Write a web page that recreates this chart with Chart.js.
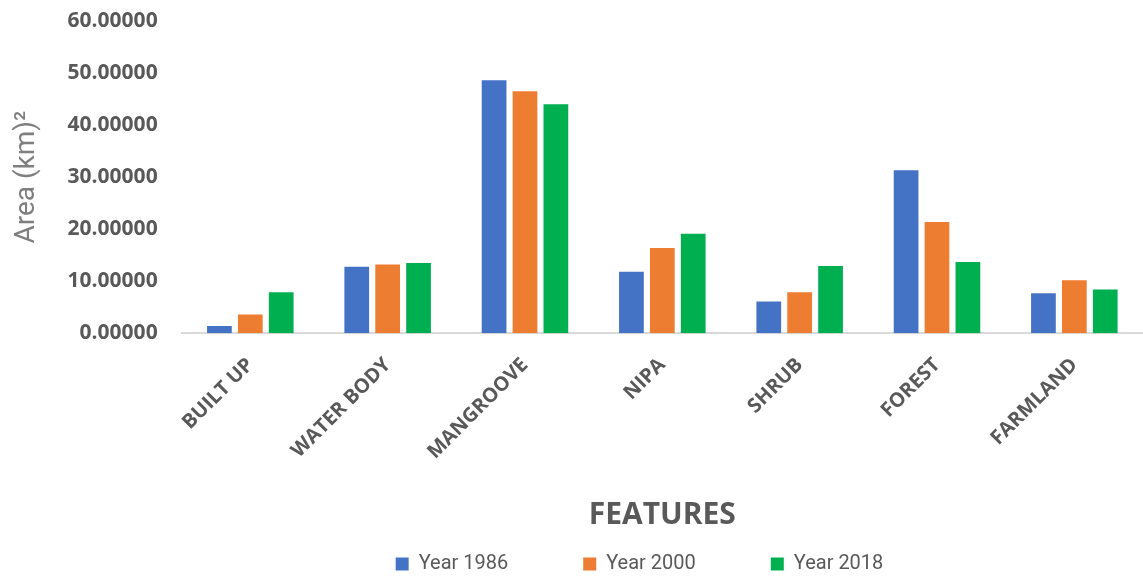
<!DOCTYPE html>
<html>
<head>
<meta charset="utf-8">
<script src="https://cdn.jsdelivr.net/npm/chart.js@4.4.1/dist/chart.umd.min.js"></script>
<style>
    html, body { margin: 0; padding: 0; background: #ffffff; }
    #wrap { width: 1143px; height: 580px; position: relative; }
</style>
</head>
<body>
<div id="wrap"><canvas id="chart"></canvas></div>
<script>
const features = ["BUILT UP", "WATER BODY", "MANGROOVE", "NIPA", "SHRUB", "FOREST", "FARMLAND"];
const year1986 = [1.4, 12.8, 48.6, 11.8, 6.1, 31.3, 7.7];
const year2000 = [3.6, 13.2, 46.5, 16.4, 7.9, 21.4, 10.2];
const year2018 = [7.9, 13.5, 44.0, 19.1, 12.9, 13.7, 8.4];
const seriesNames = ["Year 1986", "Year 2000", "Year 2018"];
const seriesColors = ["#4472C4", "#ED7D31", "#00B050"];

const textGray = "#595959";

// wide legend spacing also pads the legend vertically, so the box is
// allowed to run past the canvas bottom and then moved back into place
const legendShift = {
    id: "legendShift",
    afterLayout(chart) {
        const lg = chart.legend;
        if (!lg) return;
        lg.left += 63;
        lg.right += 63;
        lg.top -= 54;
        lg.bottom -= 54;
    }
};

const ctx = document.getElementById("chart").getContext("2d");

const chart = new Chart(ctx, {
    type: "bar",
    data: {
        labels: features,
        datasets: [year1986, year2000, year2018].map((values, i) => ({
            label: seriesNames[i],
            data: values,
            backgroundColor: seriesColors[i],
            borderWidth: 0,
            categoryPercentage: 0.675,
            barPercentage: 0.8
        }))
    },
    plugins: [legendShift],
    options: {
        responsive: true,
        maintainAspectRatio: false,
        animation: false,
        layout: {
            padding: { top: 0, left: 10, right: 0, bottom: -58 }
        },
        plugins: {
            legend: {
                position: "bottom",
                labels: {
                    color: textGray,
                    boxWidth: 13,
                    boxHeight: 13,
                    padding: 75,
                    font: { family: "Roboto", size: 20 }
                }
            },
            tooltip: { enabled: false }
        },
        scales: {
            x: {
                grid: { display: false, drawTicks: false },
                border: { display: true, color: "#d9d9d9", width: 2 },
                ticks: {
                    color: textGray,
                    maxRotation: 45,
                    minRotation: 45,
                    padding: 20,
                    font: { family: "Open Sans", size: 20, weight: "bold" }
                },
                title: {
                    display: true,
                    text: "FEATURES",
                    color: textGray,
                    padding: { top: 13, bottom: 0 },
                    font: { family: "Open Sans", size: 30, weight: "bold" }
                }
            },
            y: {
                min: 0,
                max: 60,
                grid: { display: false, drawTicks: false },
                border: { display: false },
                // keep only the room the top label needs above the plot
                afterFit: (scale) => { scale.paddingTop = 21; },
                ticks: {
                    stepSize: 10,
                    color: textGray,
                    padding: 24,
                    font: { family: "Open Sans", size: 21, weight: "bold" },
                    callback: (v) => Number(v).toFixed(5)
                },
                title: {
                    display: true,
                    text: "Area (km)²",
                    color: "#7f7f7f",
                    padding: { top: 0, bottom: 0 },
                    font: { family: "Roboto", size: 28 }
                }
            }
        }
    }
});
</script>
</body>
</html>
